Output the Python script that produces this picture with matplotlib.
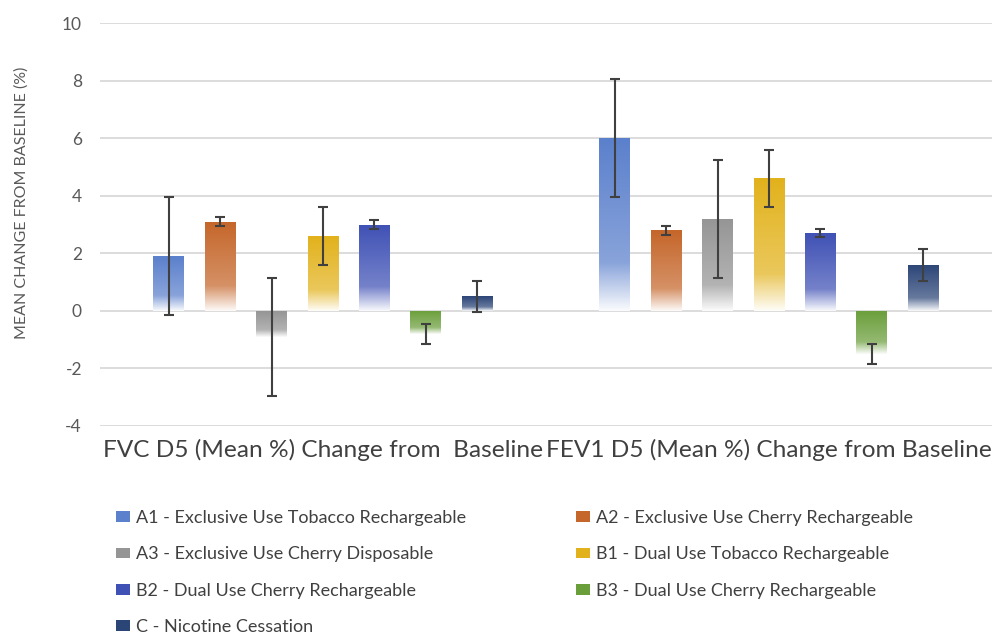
import numpy as np
import matplotlib
matplotlib.use("Agg")
import matplotlib.pyplot as plt
from matplotlib.patches import Patch
from matplotlib.colors import to_rgb
from matplotlib.transforms import ScaledTranslation

# ---- data ----
categories = ["FVC D5 (Mean %) Change from  Baseline", "FEV1 D5 (Mean %) Change from Baseline"]
series = ["A1 - Exclusive Use Tobacco Rechargeable",
          "A2 - Exclusive Use Cherry Rechargeable",
          "A3 - Exclusive Use Cherry Disposable",
          "B1 - Dual Use Tobacco Rechargeable",
          "B2 - Dual Use Cherry Rechargeable",
          "B3 - Dual Use Cherry Rechargeable",
          "C - Nicotine Cessation"]
fvc_values = [1.9, 3.1, -0.9, 2.6, 3.0, -0.8, 0.5]
fev1_values = [6.0, 2.8, 3.2, 4.6, 2.7, -1.5, 1.6]
errors = [2.05, 0.15, 2.05, 1.0, 0.15, 0.35, 0.55]
colors = ["#5b80cc", "#c5662a", "#959595", "#e2b21c", "#3f51b5", "#6a9e3a", "#2b4577"]
yticks = [-4, -2, 0, 2, 4, 6, 8, 10]

plt.rcParams['font.family'] = ['Lato', 'DejaVu Sans']

fig = plt.figure(figsize=(9.92, 6.35), dpi=100)
ax = fig.add_axes([100/992, (635-426)/635, 892/992, (426-23)/635])
ax.set_xlim(-0.5, 1.5)
ax.set_ylim(-4, 10)

for y in yticks:
    ax.axhline(y, color="#d9d9d9", lw=1.3, zorder=0)

width = 0.0695
step = 0.1153
x = np.arange(len(categories))


def gradient_rgba(col, n=200):
    base = np.array(to_rgb(col))
    t = np.linspace(0, 1, n)  # 0 = top, 1 = bottom
    mix = np.where(t < 0.72, 0.28 * t / 0.72, 0.28 + (0.97 - 0.28) * (t - 0.72) / 0.28)
    rgb = base[None, :] * (1 - mix[:, None]) + mix[:, None]
    return rgb[:, None, :]


for i, (name, col) in enumerate(zip(series, colors)):
    vals = [fvc_values[i], fev1_values[i]]
    pos = x + (i - 3) * step
    bars = ax.bar(pos, vals, width, color="none", edgecolor="none", zorder=2)
    for b, v in zip(bars, vals):
        x0 = b.get_x()
        top, bot = max(0, v), min(0, v)
        im = ax.imshow(gradient_rgba(col), extent=[x0, x0 + width, bot, top],
                       aspect="auto", zorder=2, interpolation="bilinear")
        im.set_clip_path(b)
    ax.errorbar(pos, vals, yerr=errors[i], fmt="none", ecolor="#404040",
                elinewidth=1.5, capsize=3.6, capthick=1.5, zorder=3)

ax.set_xlim(-0.5, 1.5)
ax.set_ylim(-4, 10)
ax.set_xticks(x)
ax.set_xticklabels(categories, fontsize=17.6, color="#404040")
# nudge category labels left as in the reference
shifts_px = [-17, -4]
for lbl, dx in zip(ax.get_xticklabels(), shifts_px):
    lbl.set_transform(lbl.get_transform() + ScaledTranslation(dx / 100, 0, fig.dpi_scale_trans))
ax.set_yticks(yticks)
ax.set_yticklabels([str(v) for v in yticks], fontsize=12.5, color="#595959")
ax.tick_params(axis="both", length=0)
ax.tick_params(axis="y", pad=13)
ax.tick_params(axis="x", pad=9)
for s in ax.spines.values():
    s.set_visible(False)
ax.set_ylabel("MEAN CHANGE FROM BASELINE (%)", fontsize=11.5, color="#595959")
ax.yaxis.set_label_coords(-0.080, 0.553)

# legend filled row by row like the reference
order = [0, 2, 4, 6, 1, 3, 5]
handles = [Patch(facecolor=colors[k], edgecolor="none") for k in order]
labels = [series[k] for k in order]
fig.legend(handles, labels, loc="upper left", bbox_to_anchor=(109/992, 1 - 503/635),
           ncol=2, frameon=False, fontsize=13, labelcolor="#404040",
           handlelength=0.75, handleheight=0.55, handletextpad=0.35,
           columnspacing=6.1, labelspacing=1.12, borderaxespad=0)

fig.savefig("out.png", dpi=100)
